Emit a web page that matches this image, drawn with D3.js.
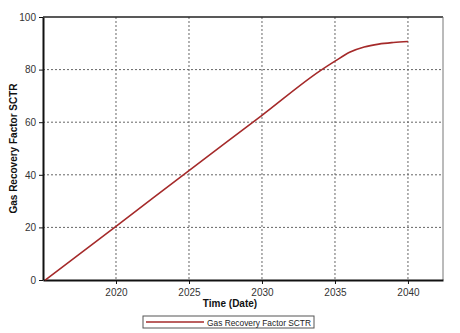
<!doctype html>
<html>
<head>
<meta charset="utf-8">
<script src="https://d3js.org/d3.v7.min.js"></script>
<style>
  body { margin: 0; background: #fff; }
  text { font-family: "Liberation Sans", Arial, sans-serif; }
</style>
</head>
<body>
<script>
  // values
  var years = [2015.15, 2020, 2025, 2030, 2034, 2035, 2036, 2037, 2038, 2039, 2040];
  var recovery = [0, 20.4, 41.6, 62.6, 79.6, 83.2, 86.6, 88.6, 89.7, 90.3, 90.7];
  var xTicks = [2020, 2025, 2030, 2035, 2040];
  var yTicks = [0, 20, 40, 60, 80, 100];
  var seriesName = "Gas Recovery Factor SCTR";

  var W = 460, H = 333;
  var m = { left: 43, top: 17, right: 17, bottom: 53 };
  var pw = W - m.left - m.right, ph = H - m.top - m.bottom;

  var svg = d3.select("body").append("svg")
    .attr("width", W).attr("height", H);

  var x = d3.scaleLinear().domain([2015, 2042.4]).range([0, pw]);
  var y = d3.scaleLinear().domain([0, 100]).range([ph, 0]);

  var g = svg.append("g").attr("transform", "translate(" + m.left + "," + m.top + ")");

  // grid
  g.selectAll(".vgrid").data(xTicks).enter().append("line")
    .attr("x1", function(d){ return x(d); }).attr("x2", function(d){ return x(d); })
    .attr("y1", 0).attr("y2", ph)
    .attr("stroke", "#666").attr("stroke-width", 1).attr("stroke-dasharray", "2,2");
  g.selectAll(".hgrid").data(yTicks.filter(function(d){ return d > 0 && d < 100; })).enter().append("line")
    .attr("x1", 0).attr("x2", pw)
    .attr("y1", function(d){ return y(d); }).attr("y2", function(d){ return y(d); })
    .attr("stroke", "#666").attr("stroke-width", 1).attr("stroke-dasharray", "2,2");

  // frame top/right
  g.append("line").attr("x1", 0).attr("x2", pw).attr("y1", 0).attr("y2", 0)
    .attr("stroke", "#222").attr("stroke-width", 1.5);
  g.append("line").attr("x1", pw).attr("x2", pw).attr("y1", 0).attr("y2", ph)
    .attr("stroke", "#777").attr("stroke-width", 1);

  // axes
  var xAxis = g.append("g").attr("transform", "translate(0," + ph + ")")
    .call(d3.axisBottom(x).tickValues(xTicks).tickFormat(d3.format("d")).tickSize(4).tickSizeOuter(0));
  var yAxis = g.append("g")
    .call(d3.axisLeft(y).tickValues(yTicks).tickSize(4).tickSizeOuter(0));
  [xAxis, yAxis].forEach(function(a){
    a.select(".domain").attr("stroke", "#111").attr("stroke-width", 2);
    a.selectAll(".tick line").attr("stroke", "#111");
    a.selectAll(".tick text").attr("font-size", 10).attr("fill", "#333")
      .attr("font-family", "'Liberation Sans', Arial, sans-serif");
  });
  xAxis.selectAll(".tick text").attr("dy", "0.9em");

  // series
  var pts = years.map(function(yr, i){ return [yr, recovery[i]]; });
  g.append("path").datum(pts)
    .attr("fill", "none").attr("stroke", "#a52a2a").attr("stroke-width", 1.6)
    .attr("d", d3.line().x(function(d){ return x(d[0]); }).y(function(d){ return y(d[1]); })
      .curve(d3.curveMonotoneX));

  // axis titles
  svg.append("text").attr("x", 230).attr("y", 307).attr("text-anchor", "middle")
    .attr("font-size", 10).attr("font-weight", "bold").attr("fill", "#111").text("Time (Date)");
  svg.append("text").attr("transform", "translate(17," + (m.top + ph / 2) + ") rotate(-90)")
    .attr("text-anchor", "middle").attr("font-size", 10).attr("font-weight", "bold")
    .attr("fill", "#111").text(seriesName);

  // legend
  var lg = svg.append("g").attr("transform", "translate(143,316)");
  lg.append("rect").attr("width", 171).attr("height", 12)
    .attr("fill", "#fff").attr("stroke", "#555").attr("stroke-width", 1);
  lg.append("line").attr("x1", 3).attr("x2", 61).attr("y1", 6).attr("y2", 6)
    .attr("stroke", "#a52a2a").attr("stroke-width", 1.6);
  lg.append("text").attr("x", 64).attr("y", 9.5).attr("font-size", 9.5).attr("fill", "#222")
    .attr("textLength", 104).attr("lengthAdjust", "spacingAndGlyphs")
    .text(seriesName);
</script>
</body>
</html>
